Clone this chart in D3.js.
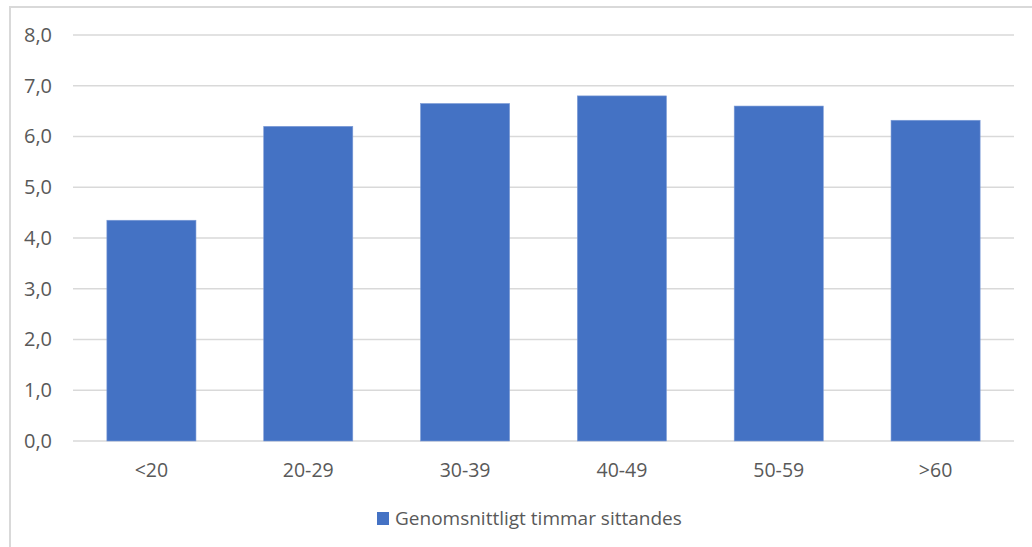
<!DOCTYPE html>
<html>
<head>
<meta charset="utf-8">
<script src="https://cdn.jsdelivr.net/npm/d3@7"></script>
<style>
  html, body { margin: 0; padding: 0; background: #fff; }
  svg { display: block; }
  text { font-family: "Open Sans", "Noto Sans", sans-serif; fill: #595959; }
</style>
</head>
<body>
<svg id="chart" width="1032" height="547"></svg>
<script>
// Average sitting hours per age group
const ageGroups = ["<20", "20-29", "30-39", "40-49", "50-59", ">60"];
const sittingHours = [4.35, 6.2, 6.65, 6.8, 6.6, 6.32];
const yTicks = [0, 1, 2, 3, 4, 5, 6, 7, 8];
const seriesName = "Genomsnittligt timmar sittandes";

const W = 1032, H = 547;
const plot = { left: 73, right: 1014, top: 35, bottom: 441 };
const barColor = "#4472C4";
const gridColor = "#d9d9d9";

const svg = d3.select("#chart");

// chart frame (left and top edges)
svg.append("path")
  .attr("d", `M10,${H} L10,7 L${W},7`)
  .attr("fill", "none")
  .attr("stroke", "#d9d9d9")
  .attr("stroke-width", 2);

const x = d3.scaleBand()
  .domain(ageGroups)
  .range([plot.left, plot.right])
  .paddingInner(0.432)
  .paddingOuter(0.216);

const y = d3.scaleLinear()
  .domain([0, 8])
  .range([plot.bottom, plot.top]);

// horizontal gridlines
svg.append("g")
  .selectAll("line")
  .data(yTicks)
  .join("line")
  .attr("x1", plot.left)
  .attr("x2", plot.right)
  .attr("y1", d => y(d))
  .attr("y2", d => y(d))
  .attr("stroke", gridColor)
  .attr("stroke-width", 1.5);

// y axis labels
const yAxis = d3.axisLeft(y)
  .tickValues(yTicks)
  .tickSize(0)
  .tickPadding(0)
  .tickFormat(d => d3.format(".1f")(d).replace(".", ","));
const yG = svg.append("g")
  .attr("transform", "translate(52,0)")
  .call(yAxis);
yG.select(".domain").remove();
yG.selectAll("text")
  .style("font-size", "20px")
  .attr("fill", "#595959");

// bars
svg.append("g")
  .selectAll("rect")
  .data(ageGroups.map((g, i) => ({ g, v: sittingHours[i] })))
  .join("rect")
  .attr("x", d => x(d.g))
  .attr("width", x.bandwidth())
  .attr("y", d => y(d.v))
  .attr("height", d => y(0) - y(d.v))
  .attr("fill", barColor)
  .attr("stroke", "#7c9bd6")
  .attr("stroke-width", 0.6);

// x axis labels
const xAxis = d3.axisBottom(x).tickSize(0).tickPadding(0);
const xG = svg.append("g")
  .attr("transform", `translate(0,${plot.bottom + 22})`)
  .call(xAxis);
xG.select(".domain").remove();
xG.selectAll("text")
  .style("font-size", "19.5px")
  .attr("fill", "#595959");

// legend
const legend = svg.append("g").attr("transform", "translate(377,512)");
legend.append("rect")
  .attr("width", 12)
  .attr("height", 13)
  .attr("fill", barColor);
legend.append("text")
  .attr("x", 18)
  .attr("y", 6.5)
  .attr("dy", "0.35em")
  .style("font-size", "19px")
  .text(seriesName);
</script>
</body>
</html>
